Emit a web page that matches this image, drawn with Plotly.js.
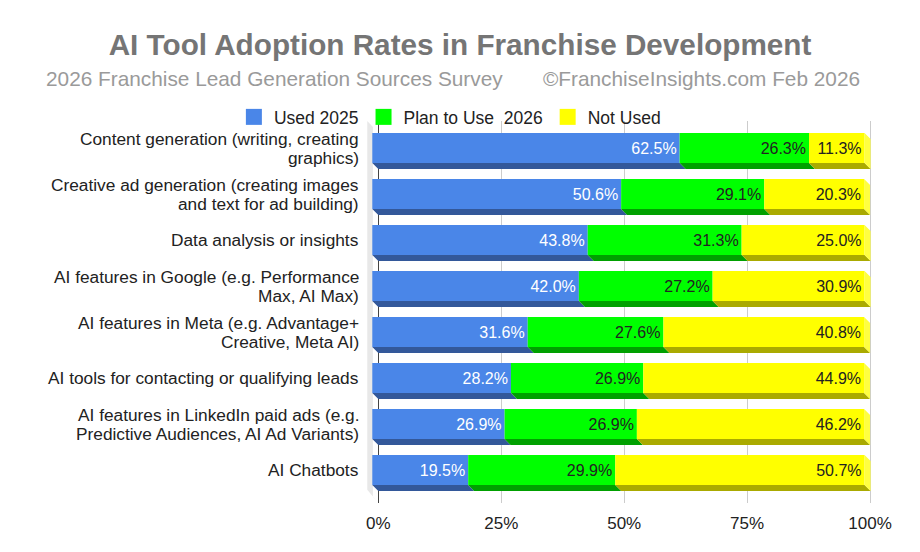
<!DOCTYPE html>
<html>
<head>
<meta charset="utf-8">
<script src="https://cdn.plot.ly/plotly-3.0.1.min.js"></script>
<style>html,body{margin:0;padding:0;background:#fff;}#chart{width:920px;height:552px;}</style>
</head>
<body>
<div id="chart"></div>
<script>
// ---- data ----
const categories = [
  "Content generation (writing, creating<br>graphics)",
  "Creative ad generation (creating images<br>and text for ad building)",
  "Data analysis or insights",
  "AI features in Google (e.g. Performance<br>Max, AI Max)",
  "AI features in Meta (e.g. Advantage+<br>Creative, Meta AI)",
  "AI tools for contacting or qualifying leads",
  "AI features in LinkedIn paid ads (e.g.<br>Predictive Audiences, AI Ad Variants)",
  "AI Chatbots"
];
const used2025 = [62.5, 50.6, 43.8, 42.0, 31.6, 28.2, 26.9, 19.5];
const plan2026 = [26.3, 29.1, 31.3, 27.2, 27.6, 26.9, 26.9, 29.9];
const notUsed  = [11.3, 20.3, 25.0, 30.9, 40.8, 44.9, 46.2, 50.7];
const seriesNames = ["Used 2025", "Plan to Use\u00a0 2026", "Not Used"];
const xTickVals = [0, 25, 50, 75, 100];
const xTickText = ["0%", "25%", "50%", "75%", "100%"];

// ---- styling ----
const FONT = "'Liberation Sans', Arial, sans-serif";
const faceColors = ["#4a86e8", "#00ff00", "#ffff00"];
const shadeColors = ["#33589a", "#00a000", "#aaaa00"];
const textColors = ["#ffffff", "#222222", "#222222"];
const sideColor = "#ffff40";
const DX = 1.22;   // 3D depth in x data units
const DY = 0.13;   // 3D depth in y units
const HALF = 0.326; // half height of front face
const LABEL_LINE = 19; // px between category label lines

const series = [used2025, plan2026, notUsed];
const idx = categories.map((_, i) => i);
const bases = series.map((_, s) => idx.map(i => {
  let b = 0; for (let k = 0; k < s; k++) b += series[k][i]; return b;
}));

const traces = [];
// shadows (bottom faces)
series.forEach((vals, s) => {
  const xs = [], ys = [];
  idx.forEach(i => {
    const a = bases[s][i], b = a + vals[i];
    const yt = i + HALF, yb = i + HALF + DY;
    xs.push(a - DX, b - DX, b, a, a - DX, null);
    ys.push(yt, yt, yb, yb, yt, null);
  });
  traces.push({type: "scatter", x: xs, y: ys, mode: "lines", line: {width: 0, color: shadeColors[s]},
    fill: "toself", fillcolor: shadeColors[s], hoverinfo: "skip", showlegend: false});
});
// right side faces of last segment
{
  const xs = [], ys = [];
  const last = series.length - 1;
  idx.forEach(i => {
    const e = bases[last][i] + series[last][i];
    xs.push(e - DX, e, e, e - DX, e - DX, null);
    ys.push(i - HALF, i - HALF + DY, i + HALF + DY, i + HALF, i - HALF, null);
  });
  traces.push({type: "scatter", x: xs, y: ys, mode: "lines", line: {width: 0, color: sideColor},
    fill: "toself", fillcolor: sideColor, hoverinfo: "skip", showlegend: false});
}
// front faces
series.forEach((vals, s) => {
  traces.push({
    type: "bar", orientation: "h", name: seriesNames[s], showlegend: false,
    y: idx, x: vals, base: bases[s].map(b => b - DX), width: 2 * HALF,
    marker: {color: faceColors[s], line: {width: 0}},
    text: vals.map(v => v.toFixed(1) + "%"),
    textposition: "inside", insidetextanchor: "end", constraintext: "none",
    textfont: {family: FONT, size: 16, color: textColors[s]},
    hoverinfo: "skip"
  });
});
// legend entries
series.forEach((vals, s) => {
  traces.push({type: "scatter", mode: "markers", x: [null], y: [null], name: seriesNames[s],
    marker: {symbol: "square", size: 17, color: faceColors[s]}, hoverinfo: "skip", showlegend: true});
});

// category labels (tight line spacing)
const annotations = [];
categories.forEach((c, i) => {
  const lines = c.split("<br>");
  lines.forEach((ln, j) => {
    annotations.push({text: ln, xref: "paper", yref: "y", x: 0, xshift: -5, xanchor: "right",
      y: i, yshift: ((lines.length - 1) / 2 - j) * LABEL_LINE, yanchor: "middle", showarrow: false,
      font: {family: FONT, size: 17.3, color: "#222"}});
  });
});
annotations.push(
  {text: "2026 Franchise Lead Generation Sources Survey", xref: "paper", yref: "paper",
   x: (44 - 366) / 509, xanchor: "left", y: 1 + (121 - 79) / 382, yanchor: "middle", showarrow: false,
   font: {family: FONT, size: 20.8, color: "#9a9a9a"}},
  {text: "\u00a9FranchiseInsights.com Feb 2026", xref: "paper", yref: "paper",
   x: (862 - 366) / 509, xanchor: "right", y: 1 + (121 - 79) / 382, yanchor: "middle", showarrow: false,
   font: {family: FONT, size: 20.8, color: "#9a9a9a"}}
);

const layout = {
  width: 920, height: 552,
  margin: {l: 366, r: 45, t: 121, b: 49, autoexpand: false},
  paper_bgcolor: "#ffffff", plot_bgcolor: "rgba(0,0,0,0)",
  barmode: "overlay",
  showlegend: true,
  font: {family: FONT, color: "#222"},
  title: {text: "<b>AI Tool Adoption Rates in Franchise Development</b>",
    font: {family: FONT, size: 29.7, color: "#757575"},
    x: 0.5, xref: "container", xanchor: "center", y: 1 - 45 / 552, yref: "container", yanchor: "middle"},
  annotations: annotations,
  legend: {orientation: "h", xref: "container", yref: "container", x: 0.489, xanchor: "center",
    y: 1 - 117 / 552, yanchor: "middle", font: {family: FONT, size: 17.5, color: "#222"},
    bgcolor: "rgba(0,0,0,0)", itemclick: false, itemdoubleclick: false, traceorder: "normal"},
  xaxis: {range: [-2.5, 101], tickvals: xTickVals, ticktext: xTickText, showgrid: true,
    gridcolor: "#cccccc", gridwidth: 1, zeroline: true, zerolinecolor: "#444444", zerolinewidth: 1.5,
    showline: false, ticks: "", ticklabelstandoff: 8, fixedrange: true,
    tickfont: {family: FONT, size: 17, color: "#222"}},
  yaxis: {range: [7.717, -0.587], tickvals: idx, showticklabels: false, showgrid: false, zeroline: false,
    showline: false, ticks: "", fixedrange: true},
  shapes: [
    {type: "path", xref: "x", yref: "y", layer: "below", line: {width: 0}, fillcolor: "#e8e8e8",
     path: "M -2.24 -0.587 L -1.1 -0.457 L -1.1 7.58 L 0 7.717 L -2.24 7.43 Z"}
  ]
};

Plotly.newPlot("chart", traces, layout, {displayModeBar: false, staticPlot: true});
</script>
</body>
</html>
